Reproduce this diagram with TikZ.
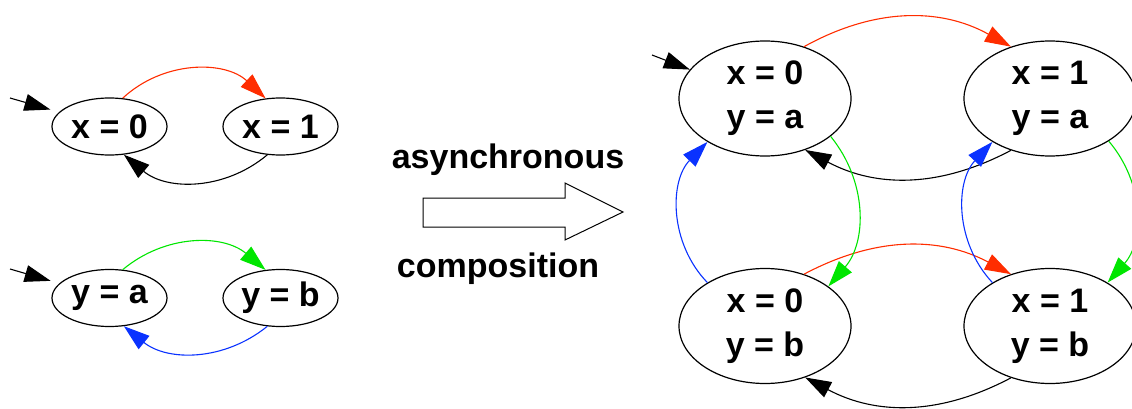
\documentclass[tikz,border=0pt]{standalone}
\usepackage{fontspec}
\setmainfont{Liberation Sans}
\usepackage{xcolor}
\usetikzlibrary{shapes,arrows.meta,positioning}
\definecolor{trred}{RGB}{255,45,0}
\definecolor{trgreen}{RGB}{0,230,0}
\definecolor{trblue}{RGB}{10,50,255}
\tikzset{
  aut state/.style={ellipse, draw, line width=1.2pt, inner sep=0pt, minimum width=115pt, minimum height=57pt, align=center, font=\fontsize{34}{44}\selectfont\bfseries},
  prod state/.style={aut state, minimum width=172pt, minimum height=115pt},
  aut trans/.style={-{Triangle[length=26pt,width=17pt]}, line width=1.1pt},
  aut label/.style={anchor=base, font=\fontsize{34}{40}\selectfont\bfseries}
}
\begin{document}
\begin{tikzpicture}[x=1pt, y=1pt]
    \useasboundingbox (0,0) rectangle (1132,408);

    % Component x
    \node [aut state] (X0) at (109.5,281.5) {x = 0};
    \node [aut state] (X1) at (280.5,281.5) {x = 1};
    \coordinate (X0in) at (10,310);
    \draw [aut trans, shorten >=9pt] (X0in) -- (X0);
    \draw [aut trans, trred] (X0.65) to[bend left=43] (X1.118);
    \draw [aut trans] (X1.245) to[bend left=40] (X0.297);

    % Component y
    \node [aut state] (Ya) at (109.5,110) {y = a};
    \node [aut state] (Yb) at (280.5,110) {y = b};
    \coordinate (Yain) at (10,139);
    \draw [aut trans, shorten >=9pt] (Yain) -- (Ya);
    \draw [aut trans, trgreen] (Ya.65) to[bend left=40] (Yb.118);
    \draw [aut trans, trblue] (Yb.245) to[bend left=39] (Ya.297);

    % Composition arrow
    \node [aut label] (Async) at (508,240) {asynchronous};
    \node [aut label] (Comp) at (498,131) {composition};
    \draw [line width=1pt] (423,210) -- (565,210) -- (565,225) -- (623,196)
        -- (565,168) -- (565,181) -- (423,181) -- cycle;

    % Product automaton
    \node [prod state] (X0Ya) at (765,309.5) {x = 0\\y = a};
    \node [prod state] (X1Ya) at (1050,309.5) {x = 1\\y = a};
    \node [prod state] (X0Yb) at (765,82) {x = 0\\y = b};
    \node [prod state] (X1Yb) at (1050,82) {x = 1\\y = b};
    \coordinate (X0Yain) at (652,353);
    \draw [aut trans] (X0Yain) -- (X0Ya);
    \draw [aut trans, trred] (X0Ya.53) to[bend left=29] (X1Ya.127);
    \draw [aut trans] (X1Ya.233) to[bend left=28] (X0Ya.308);
    \draw [aut trans, trred] (X0Yb.53) to[bend left=28] (X1Yb.127);
    \draw [aut trans] (X1Yb.233) to[bend left=28] (X0Yb.308);
    \draw [aut trans, trblue] (X0Yb.143) to[bend left=44] (X0Ya.217);
    \draw [aut trans, trgreen] (X0Ya.330) to[bend left=40] (X0Yb.32);
    \draw [aut trans, trblue] (X1Yb.143) to[bend left=43] (X1Ya.217);
    \draw [aut trans, trgreen] (X1Ya.324) to[bend left=41] (X1Yb.37);
\end{tikzpicture}
\end{document}
